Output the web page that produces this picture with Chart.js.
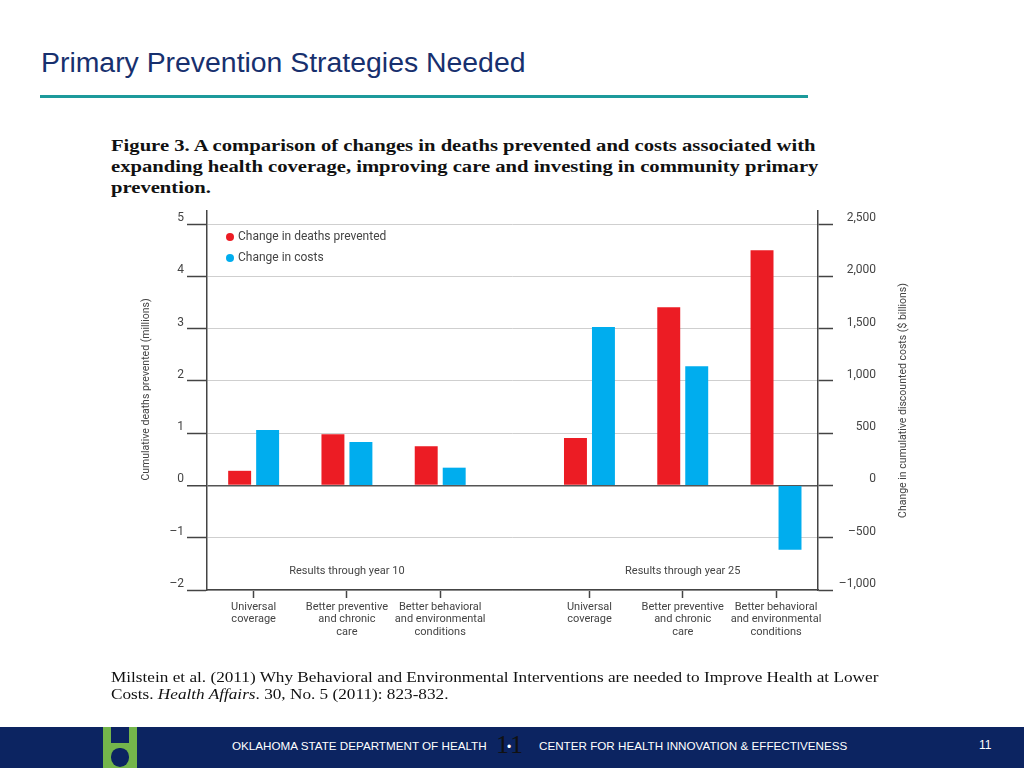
<!DOCTYPE html>
<html>
<head>
<meta charset="utf-8">
<script src="https://cdn.jsdelivr.net/npm/chart.js@4.4.1/dist/chart.umd.min.js"></script>
<style>
  html, body { margin: 0; padding: 0; background: #fff; }
  body { width: 1024px; height: 768px; position: relative; overflow: hidden; font-family: "Liberation Sans", Arial, sans-serif; }
  #title { position: absolute; left: 41px; top: 46px; font-size: 28.4px; color: #17306e; white-space: nowrap; }
  #rule { position: absolute; left: 40px; top: 95px; width: 768px; height: 3px; background: #1c9a9b; }
  #caption { position: absolute; left: 111px; top: 135px; font-family: "Liberation Serif", serif; font-weight: bold; font-size: 17.2px; line-height: 21px; color: #111; white-space: nowrap; transform: scaleX(1.2); transform-origin: 0 0; }
  #cite { position: absolute; left: 111px; top: 668px; font-family: "Liberation Serif", serif; font-size: 15.4px; line-height: 17px; color: #111; white-space: nowrap; transform: scaleX(1.118); transform-origin: 0 0; }
  #chartBox { position: absolute; left: 0; top: 0; width: 1024px; height: 768px; }
  #footer { position: absolute; left: 0; top: 727px; width: 1024px; height: 41px; background: #0c2461; }
  #logo { position: absolute; left: 103px; top: 0; width: 34px; height: 41px; background: #74b54b; }
  #logo .notch { position: absolute; left: 8px; top: 0; width: 18px; height: 16px; background: #0c2461; }
  #logo .apple { position: absolute; left: 8px; top: 21px; width: 18px; height: 19px; background: #0c2461; border-radius: 45% 45% 50% 50%; }
  .ftxt { position: absolute; top: 13px; font-size: 11px; color: #fff; white-space: nowrap; transform: scaleX(1.06); transform-origin: 0 0; }
  #pg { position: absolute; left: 496px; top: 3px; font-family: "Liberation Serif", serif; font-size: 26px; letter-spacing: 2px; color: #111; }
  #dot { position: absolute; left: 507px; top: 13px; font-size: 12px; color: #fff; }
  #num { position: absolute; left: 979px; top: 11px; font-size: 12px; color: #fff; }
</style>
</head>
<body>
<div id="title">Primary Prevention Strategies Needed</div>
<div id="rule"></div>
<div id="caption">Figure 3. A comparison of changes in deaths prevented and costs associated with<br>expanding health coverage, improving care and investing in community primary<br>prevention.</div>
<div id="chartBox"><canvas id="chart"></canvas></div>
<div id="cite">Milstein et al. (2011) Why Behavioral and Environmental Interventions are needed to Improve Health at Lower<br>Costs. <i>Health Affairs</i>. 30, No. 5 (2011): 823-832.</div>
<div id="footer">
  <div id="logo"><div class="notch"></div><div class="apple"></div></div>
  <div class="ftxt" style="left:232px">OKLAHOMA STATE DEPARTMENT OF HEALTH</div>
  <div id="pg">11</div><div id="dot">&#8226;</div>
  <div class="ftxt" style="left:539px">CENTER FOR HEALTH INNOVATION &amp; EFFECTIVENESS</div>
  <div id="num">11</div>
</div>
<script>
// Chart data
const categories = [
    ['Universal', 'coverage'],
    ['Better preventive', 'and chronic', 'care'],
    ['Better behavioral', 'and environmental', 'conditions'],
    ['Universal', 'coverage'],
    ['Better preventive', 'and chronic', 'care'],
    ['Better behavioral', 'and environmental', 'conditions']
];
const periods = ['Results through year 10', 'Results through year 25'];
const deathsPrevented = [0.28, 0.98, 0.75, 0.91, 3.41, 4.50];   // millions
const costChange = [530, 415, 170, 1515, 1140, -615];          // $ billions
const deathTicks = [-2, -1, 0, 1, 2, 3, 4, 5];
const costTicks = [-1000, -500, 0, 500, 1000, 1500, 2000, 2500];
const seriesNames = ['Change in deaths prevented', 'Change in costs'];

const GAP = 0.6; // extra space between the two periods
const xPos = categories.map((c, i) => i + (i >= 3 ? GAP : 0));

function fmt(v) {
    const s = Math.abs(v).toLocaleString('en-US');
    return v < 0 ? '\u2013' + s : s;
}

const fam = 'Roboto, "Noto Sans", sans-serif';
const tickFont = { family: fam, size: 12 };
const axisColor = '#444';

// legend, period notes and axis titles
const extras = {
    id: 'extras',
    afterDraw(chart) {
        const ctx = chart.ctx;
        const x = chart.scales.x, y = chart.scales.y;
        const area = chart.chartArea;
        ctx.save();
        ctx.font = '12px ' + fam;
        ctx.textBaseline = 'middle';
        chart.data.datasets.forEach((ds, i) => {
            const ly = area.top + 26 + i * 21;
            ctx.fillStyle = ds.backgroundColor;
            ctx.beginPath();
            ctx.arc(area.left + 23, ly, 4, 0, Math.PI * 2);
            ctx.fill();
            ctx.fillStyle = axisColor;
            ctx.textAlign = 'left';
            ctx.fillText(ds.label, area.left + 31, ly);
        });
        ctx.font = '11px ' + fam;
        ctx.textAlign = 'center';
        periods.forEach((p, i) => {
            ctx.fillText(p, x.getPixelForValue(xPos[i * 3 + 1]), y.getPixelForValue(-1.64));
        });
        ctx.font = '10.5px ' + fam;
        const midY = (area.top + area.bottom) / 2;
        [[146, 'Cumulative deaths prevented (millions)', -11], [903, 'Change in cumulative discounted costs ($ billions)', 0]].forEach(t => {
            ctx.save();
            ctx.translate(t[0], midY + t[2]);
            ctx.rotate(-Math.PI / 2);
            ctx.fillText(t[1], 0, 0);
            ctx.restore();
        });
        ctx.restore();
    }
};

new Chart(document.getElementById('chart').getContext('2d'), {
    type: 'bar',
    data: {
        datasets: [{
            label: seriesNames[0],
            data: xPos.map((x, i) => ({ x: x, y: deathsPrevented[i] })),
            backgroundColor: '#ec1c24',
            yAxisID: 'y'
        }, {
            label: seriesNames[1],
            data: xPos.map((x, i) => ({ x: x, y: costChange[i] })),
            backgroundColor: '#00adee',
            yAxisID: 'y1'
        }]
    },
    options: {
        responsive: true,
        maintainAspectRatio: false,
        animation: false,
        categoryPercentage: 0.6,
        barPercentage: 0.82,
        layout: { padding: { left: 130, right: 148, top: 211, bottom: 118 } },
        plugins: {
            legend: { display: false },
            tooltip: { enabled: false }
        },
        scales: {
            x: {
                type: 'linear',
                offset: false,
                min: -0.5,
                max: 6.05,
                afterBuildTicks: axis => { axis.ticks = xPos.map(v => ({ value: v })); },
                afterFit: axis => { axis.height = 60; },
                ticks: {
                    autoSkip: false,
                    maxRotation: 0,
                    padding: 3,
                    color: axisColor,
                    font: { family: fam, size: 11, lineHeight: 1.12 },
                    callback: (v, i) => categories[i]
                },
                grid: { offset: false, drawOnChartArea: false, tickLength: 8, tickColor: axisColor, tickWidth: 1.5 },
                border: { color: axisColor, width: 1.5 }
            },
            y: {
                position: 'left',
                min: -2,
                max: 5.25,
                afterBuildTicks: axis => { axis.ticks = deathTicks.map(v => ({ value: v })); },
                afterFit: axis => { axis.width = 77; },
                ticks: { color: axisColor, font: tickFont, padding: 3, labelOffset: -6, callback: v => fmt(v) },
                grid: {
                    color: c => c.tick && c.tick.value === 0 ? '#555' : '#cfcfcf',
                    lineWidth: c => c.tick && c.tick.value === 0 ? 1.5 : 1,
                    tickColor: axisColor,
                    tickLength: 20,
                    tickWidth: 1.5
                },
                border: { color: axisColor, width: 1.5 }
            },
            y1: {
                position: 'right',
                min: -1000,
                max: 2625,
                afterBuildTicks: axis => { axis.ticks = costTicks.map(v => ({ value: v })); },
                afterFit: axis => { axis.width = 58; },
                ticks: { color: axisColor, font: tickFont, padding: 8, labelOffset: -6, crossAlign: 'far', callback: v => fmt(v) },
                grid: { drawOnChartArea: false, tickColor: axisColor, tickLength: 15, tickWidth: 1.5 },
                border: { color: axisColor, width: 1.5 }
            }
        }
    },
    plugins: [extras]
});
</script>
</body>
</html>
